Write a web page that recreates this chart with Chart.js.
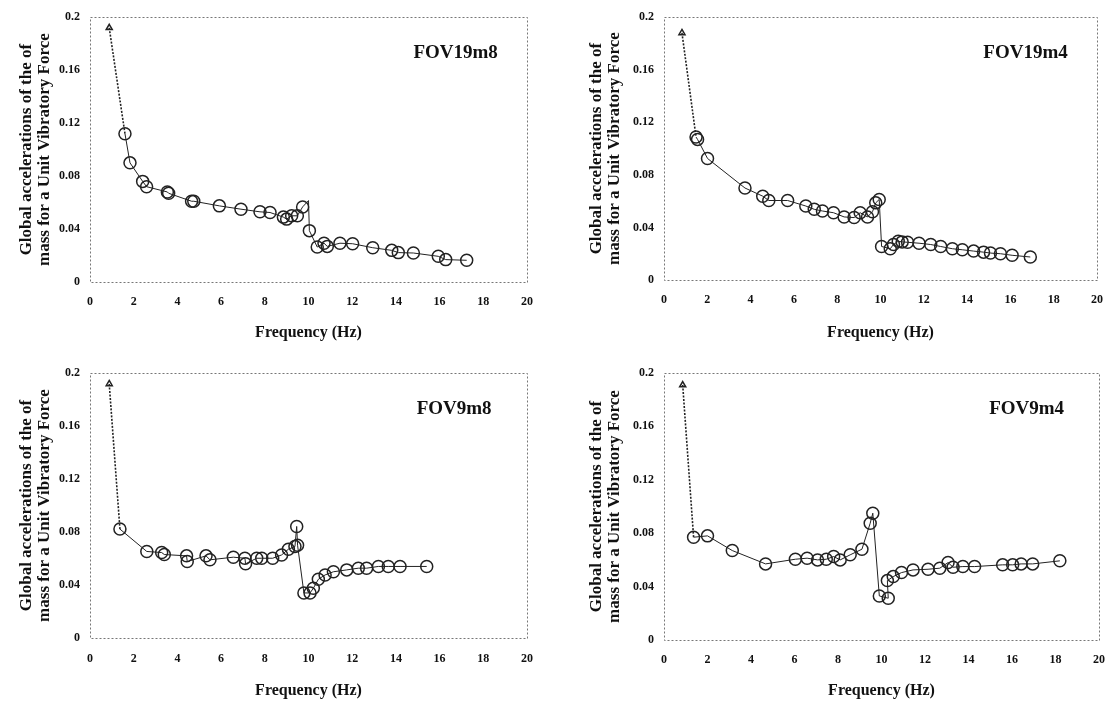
<!DOCTYPE html>
<html>
<head>
<meta charset="utf-8">
<script src="https://cdn.jsdelivr.net/npm/chart.js@4.4.1/dist/chart.umd.min.js"></script>
<style>
  html, body { margin: 0; padding: 0; background: #fff; }
  body { width: 1118px; height: 701px; position: relative; overflow: hidden; }
  canvas { position: absolute; }
</style>
</head>
<body>
<canvas id="p1" width="559" height="350" style="left:0;top:0"></canvas>
<canvas id="p2" width="559" height="350" style="left:559px;top:0"></canvas>
<canvas id="p3" width="559" height="351" style="left:0;top:350px"></canvas>
<canvas id="p4" width="559" height="351" style="left:559px;top:350px"></canvas>
<script>
// FOV19m8
const freq19m8 = [0.88, 1.6, 1.83, 2.41, 2.59, 3.54, 3.6, 4.65, 4.75, 5.92, 6.91, 7.78, 8.24, 8.85, 9.0, 9.23, 9.49, 9.73, 10.0, 10.04, 10.4, 10.71, 10.86, 11.44, 12.02, 12.94, 13.81, 14.11, 14.8, 15.94, 16.28, 17.24];
const acc19m8  = [0.192, 0.112, 0.090, 0.076, 0.072, 0.068, 0.067, 0.061, 0.061, 0.0575, 0.055, 0.053, 0.0525, 0.049, 0.0475, 0.050, 0.050, 0.0567, 0.0615, 0.0388, 0.0264, 0.0293, 0.0269, 0.0293, 0.0289, 0.0259, 0.0239, 0.0222, 0.0219, 0.0194, 0.0169, 0.0164];

// FOV19m4
const freq19m4 = [0.83, 1.48, 1.55, 2.01, 3.74, 4.56, 4.84, 5.71, 6.55, 6.94, 7.32, 7.83, 8.32, 8.78, 9.06, 9.4, 9.63, 9.78, 9.94, 10.05, 10.45, 10.6, 10.82, 11.0, 11.25, 11.78, 12.32, 12.78, 13.32, 13.78, 14.3, 14.76, 15.08, 15.54, 16.08, 16.92];
const acc19m4  = [0.188, 0.1088, 0.107, 0.0925, 0.070, 0.0638, 0.0605, 0.0605, 0.0563, 0.0538, 0.0525, 0.0512, 0.048, 0.0475, 0.0512, 0.048, 0.052, 0.0587, 0.0613, 0.0255, 0.0238, 0.027, 0.0295, 0.029, 0.0287, 0.028, 0.027, 0.0255, 0.0238, 0.023, 0.022, 0.0212, 0.0205, 0.020, 0.0188, 0.0175];

// FOV9m8
const freq9m8 = [0.88, 1.37, 2.6, 3.28, 3.4, 4.42, 4.45, 5.31, 5.49, 6.56, 7.09, 7.12, 7.63, 7.86, 8.36, 8.77, 9.08, 9.38, 9.46, 9.5, 9.79, 10.07, 10.22, 10.45, 10.76, 11.14, 11.75, 12.28, 12.66, 13.2, 13.65, 14.19, 15.41];
const acc9m8  = [0.1917, 0.0822, 0.0653, 0.0645, 0.063, 0.062, 0.0577, 0.062, 0.059, 0.061, 0.0602, 0.056, 0.0602, 0.0602, 0.0602, 0.0627, 0.067, 0.069, 0.0842, 0.070, 0.034, 0.034, 0.0375, 0.0443, 0.0476, 0.050, 0.0514, 0.0527, 0.0527, 0.054, 0.054, 0.054, 0.054];

// FOV9m4
const freq9m4 = [0.86, 1.36, 2.0, 3.14, 4.67, 6.04, 6.58, 7.06, 7.46, 7.8, 8.1, 8.56, 9.1, 9.48, 9.6, 9.9, 10.31, 10.27, 10.54, 10.92, 11.45, 12.14, 12.68, 13.06, 13.29, 13.74, 14.28, 15.57, 16.03, 16.42, 16.95, 18.2];
const acc9m4  = [0.191, 0.077, 0.078, 0.067, 0.057, 0.0605, 0.0613, 0.060, 0.0605, 0.0625, 0.060, 0.0638, 0.068, 0.0875, 0.095, 0.033, 0.0313, 0.0445, 0.0475, 0.0505, 0.0525, 0.053, 0.0538, 0.058, 0.0545, 0.055, 0.055, 0.0563, 0.0563, 0.057, 0.057, 0.0593];

const xTicks = [0, 20, 2];
const yTicks = [0, 0.2, 0.04];
const yTitle = ['Global accelerations of the of', 'mass for a Unit Vibratory Force'];
const xTitle = 'Frequency (Hz)';

Chart.defaults.font.family = "'Liberation Serif', 'Times New Roman', serif";
Chart.defaults.color = '#111';

const frame = {
  id: 'frame',
  beforeDatasetsDraw(chart) {
    const { ctx, chartArea: a } = chart;
    ctx.save();
    ctx.strokeStyle = '#777';
    ctx.lineWidth = 1;
    ctx.setLineDash([2, 2]);
    ctx.strokeRect(Math.round(a.left) + 0.5, Math.round(a.top) + 0.5, Math.round(a.width), Math.round(a.height));
    ctx.restore();
  },
  afterDatasetsDraw(chart, args, opts) {
    const { ctx, scales } = chart;
    ctx.save();
    ctx.fillStyle = '#111';
    ctx.font = "bold 19px 'Liberation Serif', serif";
    ctx.textBaseline = 'middle';
    ctx.textAlign = 'left';
    ctx.fillText(opts.text, scales.x.getPixelForValue(opts.x), scales.y.getPixelForValue(opts.y));
    ctx.restore();
  }
};

function panel(id, freq, acc, label, box, noMarker) {
  const pts = freq.map((f, i) => ({ x: f, y: acc[i] }));
  const canvas = document.getElementById(id);
  const H = canvas.height, W = canvas.width;
  new Chart(canvas, {
    type: 'scatter',
    data: {
      datasets: [{
        data: pts,
        showLine: true,
        borderColor: '#222',
        borderWidth: 1,
        pointStyle: ctx => ctx.dataIndex === 0 ? 'triangle' : 'circle',
        pointRadius: ctx => ctx.dataIndex === 0 ? 3.5 : (noMarker.includes(ctx.dataIndex) ? 0 : 6),
        pointBorderWidth: 1.5,
        pointBorderColor: '#222',
        pointBackgroundColor: 'rgba(0,0,0,0)',
        segment: {
          borderDash: ctx => ctx.p0DataIndex === 0 ? [2, 1.5] : undefined,
          borderWidth: ctx => ctx.p0DataIndex === 0 ? 1.6 : 1
        }
      }]
    },
    options: {
      responsive: false,
      animation: false,
      layout: { padding: { left: 0, top: box.top, right: W - box.right, bottom: 0 } },
      plugins: {
        legend: { display: false },
        tooltip: { enabled: false },
        frame: { text: label, x: box.lx, y: 0.173 }
      },
      scales: {
        x: {
          type: 'linear',
          min: xTicks[0], max: xTicks[1],
          grid: { display: false, drawTicks: false },
          border: { display: false },
          ticks: { stepSize: xTicks[2], padding: box.xTickPad, font: { size: 12, weight: 'bold' }, color: '#111' },
          title: { display: true, text: xTitle, font: { size: 16, weight: 'bold', lineHeight: 1.125 }, color: '#111', padding: { top: 0, bottom: box.xTitlePad } },
          afterFit: s => { s.height = H - box.bottom; }
        },
        y: {
          min: yTicks[0], max: yTicks[1],
          grid: { display: false, drawTicks: false },
          border: { display: false },
          ticks: { stepSize: yTicks[2], padding: 10, font: { size: 12, weight: 'bold' }, color: '#111',
                   callback: v => String(+v.toFixed(2)) },
          title: { display: true, text: yTitle, font: { size: 17, weight: 'bold', lineHeight: 1.1 }, color: '#111', padding: { top: box.yTitlePad, bottom: 0 } },
          afterFit: s => { s.width = box.left; }
        }
      }
    },
    plugins: [frame]
  });
}

panel('p1', freq19m8, acc19m8, 'FOV19m8', { left: 90, right: 527, top: 14, bottom: 282, yTitlePad: 17, xTickPad: 13, xTitlePad: 8, lx: 14.8 }, [18]);
panel('p2', freq19m4, acc19m4, 'FOV19m4', { left: 105, right: 538, top: 13, bottom: 280, yTitlePad: 28, xTickPad: 13, xTitlePad: 8, lx: 14.75 }, []);
panel('p3', freq9m8, acc9m8, 'FOV9m8', { left: 90, right: 527, top: 23, bottom: 288, yTitlePad: 17, xTickPad: 14, xTitlePad: 1, lx: 14.95 }, []);
panel('p4', freq9m4, acc9m4, 'FOV9m4', { left: 105, right: 541, top: 23, bottom: 290, yTitlePad: 28, xTickPad: 13, xTitlePad: 1, lx: 14.95 }, []);
</script>
</body>
</html>
